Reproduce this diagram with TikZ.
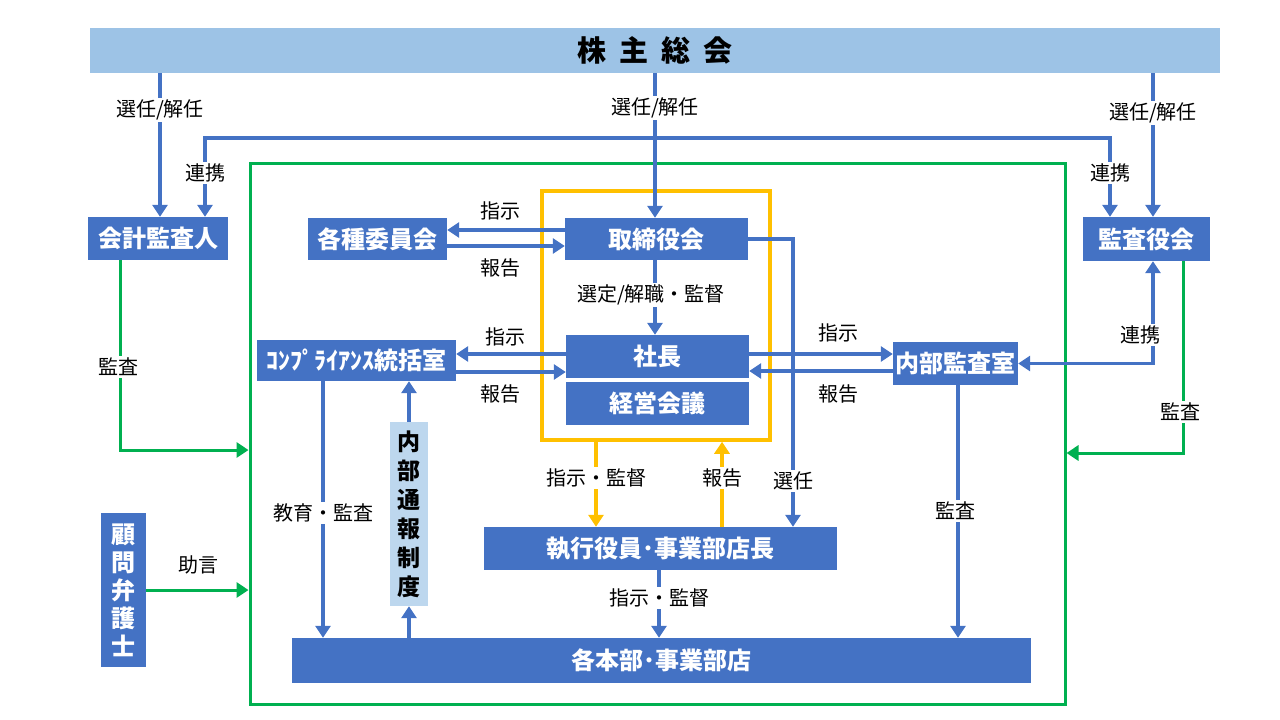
\documentclass[tikz,border=0pt]{standalone}
\usepackage{fontspec}
\setmainfont{Noto Sans CJK JP}
\usepackage{tikz}
\usetikzlibrary{arrows.meta}

\definecolor{boxblue}{HTML}{4472C4}
\definecolor{barblue}{HTML}{9DC3E6}
\definecolor{paleblue}{HTML}{BDD7EE}
\definecolor{framegreen}{HTML}{00B050}
\definecolor{frameorange}{HTML}{FFC000}

\tikzset{
  orgbox/.style={fill=boxblue, text=white, inner sep=0pt,
    font=\fontsize{24}{27}\selectfont\bfseries},
  lbl/.style={fill=white, inner sep=2pt, font=\fontsize{20}{22}\selectfont},
  link/.style={boxblue, line width=3.5pt, -{Triangle[width=15pt,length=12pt]}},
  linkboth/.style={boxblue, line width=3.5pt,
    {Triangle[width=15pt,length=12pt]}-{Triangle[width=15pt,length=12pt]}},
  glink/.style={framegreen, line width=3pt, -{Triangle[width=15pt,length=12pt]}},
  olink/.style={frameorange, line width=3.5pt, -{Triangle[width=15pt,length=12pt]}}
}

\begin{document}
\begin{tikzpicture}[x=1pt, y=-1pt]
                  \useasboundingbox (0,0) rectangle (1280,720);

                  % Define frames
                  \node[draw=framegreen, line width=3pt, minimum width=815pt, minimum height=541pt, inner sep=0pt] (group) at (657.5,433.5) {};
                  \node[draw=frameorange, line width=3.5pt, minimum width=228pt, minimum height=249pt, inner sep=0pt] (core) at (656,315.5) {};

                  % Define boxes
                  \node[fill=barblue, minimum width=1130pt, minimum height=45pt, inner sep=0pt,
                        font=\fontsize{29}{31}\selectfont\bfseries] (meeting) at (655,50.5) {株\hspace{13pt}主\hspace{13pt}総\hspace{13pt}会};
                  \node[orgbox, minimum width=140pt, minimum height=43pt] (auditor) at (158,238.5) {会計監査人};
                  \node[orgbox, minimum width=127pt, minimum height=44pt] (kansa) at (1146.5,239) {監査役会};
                  \node[orgbox, minimum width=139pt, minimum height=42pt] (committee) at (377.5,239) {各種委員会};
                  \node[orgbox, minimum width=183pt, minimum height=42pt] (board) at (656.5,239) {取締役会};
                  \node[orgbox, minimum width=183pt, minimum height=43pt] (president) at (657.5,356.5) {社長};
                  \node[orgbox, minimum width=183pt, minimum height=43pt] (council) at (657.5,403.5) {経営会議};
                  \node[orgbox, minimum width=199pt, minimum height=41pt] (compliance) at (356.5,360.5) {ｺﾝﾌﾟﾗｲｱﾝｽ統括室};
                  \node[orgbox, minimum width=125pt, minimum height=43pt] (internal) at (955.5,363.5) {内部監査室};
                  \node[orgbox, minimum width=45pt, minimum height=154pt, align=center,
                        font=\fontsize{24}{28}\selectfont\bfseries] (lawyer) at (123.5,590) {顧\\問\\弁\\護\\士};
                  \node[orgbox, minimum width=353pt, minimum height=43pt] (officer) at (660.5,548.5) {執行役員･事業部店長};
                  \node[orgbox, minimum width=739pt, minimum height=45pt] (division) at (661.5,660.5) {各本部･事業部店};
                  \node[fill=paleblue, minimum width=38pt, minimum height=184pt, inner sep=0pt, align=center,
                        font=\fontsize{23}{29}\selectfont\bfseries] (hotline) at (409,514) {内\\部\\通\\報\\制\\度};

                  % Draw connectors
                  \draw[link] (meeting.south -| 160,0) -- (auditor.north -| 160,0);
                  \draw[link] (meeting.south -| 655,0) -- (board.north -| 655,0);
                  \draw[link] (meeting.south -| 1153,0) -- (kansa.north -| 1153,0);
                  \draw[linkboth] (auditor.north -| 205,0) |- (1110,138) -- (kansa.north -| 1110,0);
                  \draw[link] (board.west |- 0,230) -- (committee.east |- 0,230);
                  \draw[link] (committee.east |- 0,246) -- (board.west |- 0,246);
                  \draw[link] (board.south -| 655,0) -- (president.north -| 655,0);
                  \draw[link] (president.west |- 0,354) -- (compliance.east |- 0,354);
                  \draw[link] (compliance.east |- 0,372) -- (president.west |- 0,372);
                  \draw[link] (president.east |- 0,354) -- (internal.west |- 0,354);
                  \draw[link] (internal.west |- 0,371) -- (president.east |- 0,371);
                  \draw[linkboth] (internal.east) -| (kansa.south -| 1153,0);
                  \draw[link] (board.east) -| (officer.north -| 793,0);
                  \draw[olink] (core.south -| 596,0) -- (officer.north -| 596,0);
                  \draw[olink] (officer.north -| 722,0) -- (core.south -| 722,0);
                  \draw[link] (officer.south -| 659,0) -- (division.north -| 659,0);
                  \draw[link] (division.north -| 409,0) -- (hotline.south);
                  \draw[link] (hotline.north) -- (compliance.south -| 409,0);
                  \draw[link] (compliance.south -| 323,0) -- (division.north -| 323,0);
                  \draw[link] (internal.south -| 958,0) -- (division.north -| 958,0);
                  \draw[glink] (auditor.south -| 120,0) |- (group.west |- 0,450);
                  \draw[glink] (kansa.south -| 1183,0) |- (group.east |- 0,453);
                  \draw[glink] (lawyer.east) -- (group.west |- lawyer.east);

                  % Labels
                  \node[lbl] (l-elect1) at (160,110) {選任/解任};
                  \node[lbl] (l-elect2) at (655,108) {選任/解任};
                  \node[lbl] (l-elect3) at (1153,113) {選任/解任};
                  \node[lbl] (l-coop1) at (205,173) {連携};
                  \node[lbl] (l-coop2) at (1110,173) {連携};
                  \node[lbl] (l-coop3) at (1140,335) {連携};
                  \node[lbl] (l-order1) at (500,211) {指示};
                  \node[lbl] (l-report1) at (500,268) {報告};
                  \node[lbl] (l-appoint) at (651,295) {選定/解職・監督};
                  \node[lbl] (l-order2) at (505,337) {指示};
                  \node[lbl] (l-report2) at (500,394) {報告};
                  \node[lbl] (l-order3) at (838,333) {指示};
                  \node[lbl] (l-report3) at (838,394) {報告};
                  \node[lbl] (l-audit1) at (118,367) {監査};
                  \node[lbl] (l-audit2) at (1180,412) {監査};
                  \node[lbl] (l-advice) at (198,565) {助言};
                  \node[lbl] (l-select) at (793,481) {選任};
                  \node[lbl] (l-super1) at (596,478) {指示・監督};
                  \node[lbl] (l-report4) at (722,478) {報告};
                  \node[lbl] (l-super2) at (659,598) {指示・監督};
                  \node[lbl] (l-train) at (323,513) {教育・監査};
                  \node[lbl] (l-audit3) at (955,511) {監査};

              \end{tikzpicture}
\end{document}
